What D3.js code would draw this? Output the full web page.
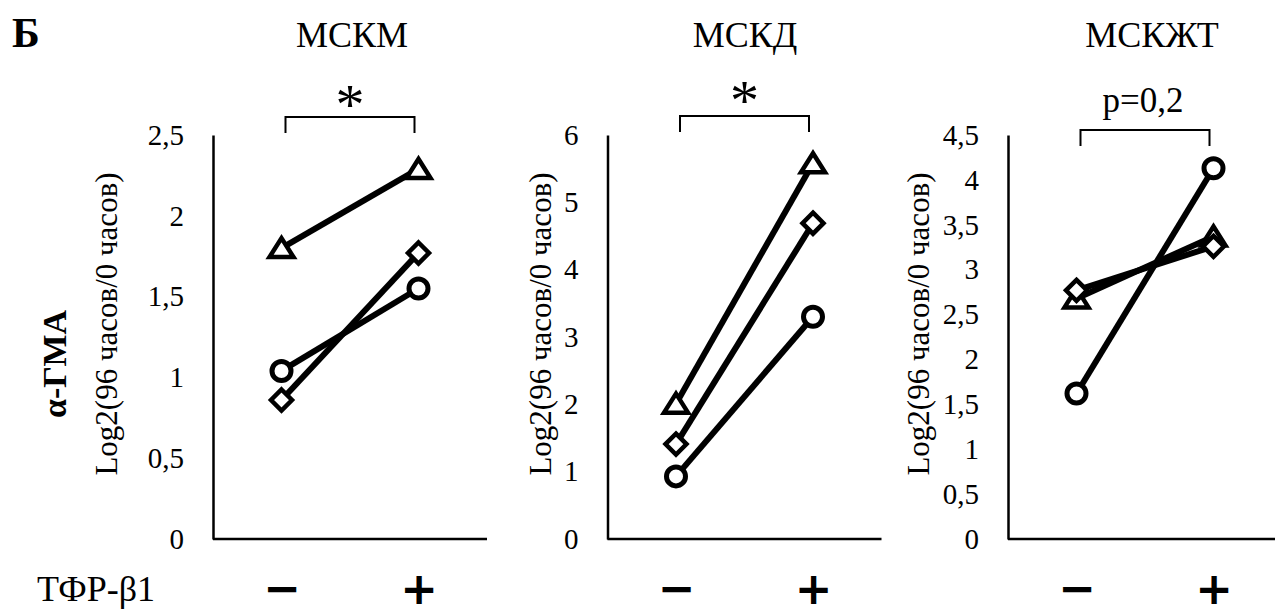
<!DOCTYPE html>
<html><head><meta charset="utf-8">
<script src="https://cdn.jsdelivr.net/npm/d3@7"></script>
<style>
body{margin:0;background:#fff}
svg{display:block}
text{font-family:"Liberation Serif","Times New Roman",serif;fill:#000}
</style>
</head><body>
<svg id="c" width="1275" height="610"></svg>
<script>
// ---- data ----
const categories = ["−", "+"];
const panelTitles = ["МСКМ", "МСКД", "МСКЖТ"];
const significance = ["*", "*", "p=0,2"];
const yDomainMax = [2.5, 6, 4.5];
const yTicksPanel1 = [0, 0.5, 1, 1.5, 2, 2.5];
const yTicksPanel2 = [0, 1, 2, 3, 4, 5, 6];
const yTicksPanel3 = [0, 0.5, 1, 1.5, 2, 2.5, 3, 3.5, 4, 4.5];
const triangleValues = [[1.80, 2.29], [2.01, 5.58], [2.68, 3.37]];
const diamondValues  = [[0.86, 1.77], [1.41, 4.69], [2.77, 3.26]];
const circleValues   = [[1.04, 1.55], [0.93, 3.30], [1.62, 4.13]];
const yLabelText = "Log2(96 часов/0 часов)";
const rowLabel = "α-ГМА";
const xRowLabel = "ТФР-β1";
const panelLetter = "Б";

// ---- layout ----
const svg = d3.select("#c");
const panelLeft = [213, 607.5, 1008];
const panelWidth = 274;
const plotTop = 135, plotBottom = 539;
const yTickSets = [yTicksPanel1, yTicksPanel2, yTicksPanel3];
const yLabelX = [106, 540, 918];
const bracketY = [117, 116, 130];
const sigY = [124, 120, 112];
const titleX = [352, 745, 1152];
const fmt = d => String(d).replace(".", ",");

const series = [
  {values: triangleValues, shape: "triangle"},
  {values: diamondValues, shape: "diamond"},
  {values: circleValues, shape: "circle"}
];

function markerPath(shape) {
  if (shape === "triangle") return "M0,-10L12,9L-12,9Z";
  if (shape === "diamond") return "M0,-10.5L10.5,0L0,10.5L-10.5,0Z";
  return null;
}

svg.append("text").attr("x", 12).attr("y", 47)
  .style("font-size", "42px").style("font-weight", "bold").text(panelLetter);

svg.append("text").attr("transform", "translate(66,364) rotate(-90)")
  .attr("text-anchor", "middle").style("font-size", "34px").style("font-weight", "bold")
  .text(rowLabel);

svg.append("text").attr("x", 37).attr("y", 601)
  .style("font-size", "36px").text(xRowLabel);

panelTitles.forEach((title, i) => {
  const x = d3.scalePoint().domain(categories).range([panelLeft[i], panelLeft[i] + panelWidth]).padding(0.5);
  const y = d3.scaleLinear().domain([0, yDomainMax[i]]).range([plotBottom, plotTop]);
  const g = svg.append("g");

  const ya = g.append("g").attr("transform", `translate(${panelLeft[i]},0)`)
    .call(d3.axisLeft(y).tickValues(yTickSets[i]).tickFormat(fmt).tickSize(0).tickPadding(29));
  ya.select(".domain").attr("stroke", "#000").attr("stroke-width", 2.5);
  ya.selectAll("text").style("font-size", "29px").style("font-family", '"Liberation Serif",serif');

  const xa = g.append("g").attr("transform", `translate(0,${plotBottom})`)
    .call(d3.axisBottom(x).tickSize(0).tickSizeOuter(0).tickPadding(33));
  xa.select(".domain").attr("stroke", "#000").attr("stroke-width", 2.5)
    .attr("d", `M${panelLeft[i]},0H${panelLeft[i] + panelWidth}`);
  xa.selectAll("text").style("font-size", "45px").style("font-weight", "bold")
    .style("font-family", '"DejaVu Sans",sans-serif');

  g.append("text").attr("transform", `translate(${yLabelX[i] + 11},324) rotate(-90)`)
    .attr("text-anchor", "middle").style("font-size", "31px").text(yLabelText);

  g.append("text").attr("x", titleX[i]).attr("y", 47).attr("text-anchor", "middle")
    .style("font-size", "36px").text(title);

  const bx0 = x(categories[0]) + 4, bx1 = x(categories[1]) - 4, by = bracketY[i];
  g.append("path").attr("d", `M${bx0},${by + 16}V${by}H${bx1}V${by + 16}`)
    .attr("fill", "none").attr("stroke", "#000").attr("stroke-width", 2);

  const cx = (bx0 + bx1) / 2;
  if (significance[i] === "*") {
    g.append("text").attr("x", cx).attr("y", sigY[i]).attr("text-anchor", "middle")
      .style("font-size", "58px").text("*");
  } else {
    g.append("text").attr("x", cx - 2).attr("y", sigY[i]).attr("text-anchor", "middle")
      .style("font-size", "35px").text(significance[i]);
  }

  series.forEach(s => {
    const pts = s.values[i].map((v, k) => [x(categories[k]), y(v)]);
    g.append("path").attr("d", d3.line()(pts)).attr("fill", "none")
      .attr("stroke", "#000").attr("stroke-width", 6);
    pts.forEach(p => {
      if (s.shape === "circle") {
        g.append("circle").attr("cx", p[0]).attr("cy", p[1]).attr("r", 9.5)
          .attr("fill", "#fff").attr("stroke", "#000").attr("stroke-width", 5);
      } else {
        g.append("path").attr("d", markerPath(s.shape))
          .attr("transform", `translate(${p[0]},${p[1]})`)
          .attr("fill", "#fff").attr("stroke", "#000").attr("stroke-width", 4.5)
          .attr("stroke-linejoin", "miter");
      }
    });
  });
});
</script>
</body></html>
